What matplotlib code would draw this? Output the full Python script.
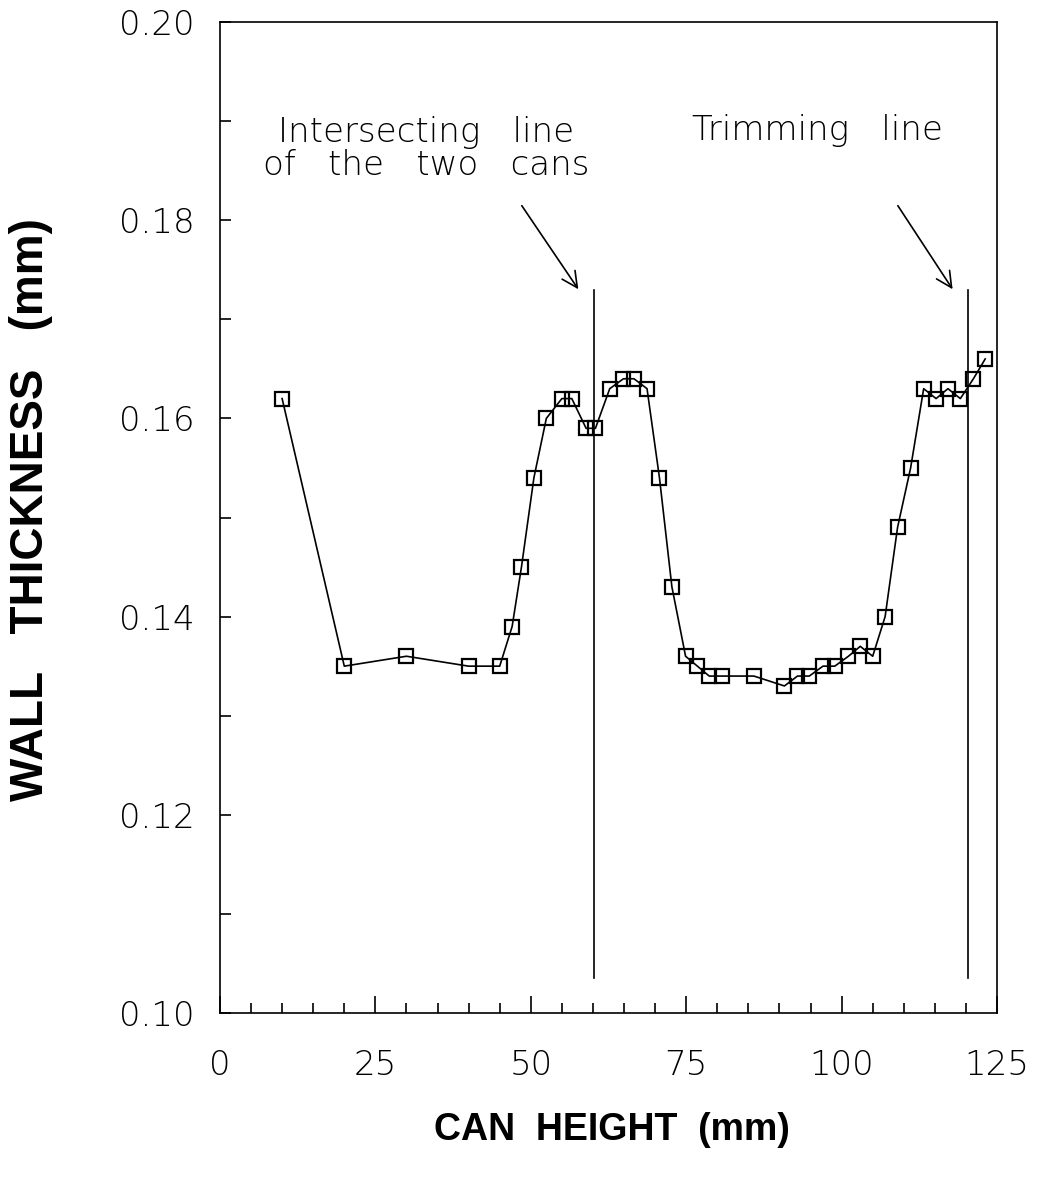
import matplotlib.pyplot as plt
from matplotlib.ticker import MultipleLocator

# wall thickness along the can height
can_height = [10, 20, 30, 40, 45, 47, 48.5, 50.5, 52.5, 55, 56.6, 58.9, 60.4,
              62.7, 64.9, 66.6, 68.7, 70.7, 72.7, 74.9, 76.8, 78.7, 80.8, 85.9,
              90.8, 92.9, 94.8, 97.0, 98.9, 101.1, 103.0, 105.0, 107.0, 109.0,
              111.1, 113.2, 115.2, 117.1, 119.1, 121.2, 123.1]
wall_thickness = [0.162, 0.135, 0.136, 0.135, 0.135, 0.139, 0.145, 0.154, 0.160,
                  0.162, 0.162, 0.159, 0.159, 0.163, 0.164, 0.164, 0.163, 0.154,
                  0.143, 0.136, 0.135, 0.134, 0.134, 0.134, 0.133, 0.134, 0.134,
                  0.135, 0.135, 0.136, 0.137, 0.136, 0.140, 0.149, 0.155, 0.163,
                  0.162, 0.163, 0.162, 0.164, 0.166]

x_ticks = [0, 25, 50, 75, 100, 125]
x_labels = ["0", "25", "50", "75", "100", "125"]
y_ticks = [0.10, 0.12, 0.14, 0.16, 0.18, 0.20]
y_labels = ["0.10", "0.12", "0.14", "0.16", "0.18", "0.20"]

marker_lines = [60.2, 120.3]
line_bottom = 0.1035
line_top = 0.1730

light = ["DejaVu Sans"]
bold = ["Liberation Sans", "DejaVu Sans"]

plt.rcParams["font.family"] = light

fig = plt.figure(figsize=(10.39, 11.83), dpi=100)
ax = fig.add_axes([0.2117, 0.1437, 0.7479, 0.8377])

ax.plot(can_height, wall_thickness, color="black", lw=1.2, marker="s",
        markersize=10, markerfacecolor="none", markeredgecolor="black",
        markeredgewidth=1.6)

for xv in marker_lines:
    ax.plot([xv, xv], [line_bottom, line_top], color="black", lw=1.2)

ax.annotate("", xy=(57.9, 0.1728), xytext=(48.3, 0.1817),
            arrowprops=dict(arrowstyle="->", color="black", lw=1.2,
                            mutation_scale=28))
ax.annotate("", xy=(118.1, 0.1728), xytext=(108.8, 0.1817),
            arrowprops=dict(arrowstyle="->", color="black", lw=1.2,
                            mutation_scale=28))

ax.text(33.1, 0.1879, "Intersecting   line", ha="center", va="baseline",
        fontsize=24.5, fontweight="light")
ax.text(33.1, 0.1846, "of   the   two   cans", ha="center", va="baseline",
        fontsize=24.5, fontweight="light")
ax.text(96.1, 0.1881, "Trimming   line", ha="center", va="baseline",
        fontsize=24.5, fontweight="light")

ax.set_xlim(0, 125)
ax.set_ylim(0.10, 0.20)
ax.set_xticks(x_ticks)
ax.set_xticklabels(x_labels, fontsize=24.5, fontweight="light")
ax.set_yticks(y_ticks)
ax.set_yticklabels(y_labels, fontsize=24.5, fontweight="light")
ax.xaxis.set_minor_locator(MultipleLocator(5))
ax.yaxis.set_minor_locator(MultipleLocator(0.01))
ax.tick_params(which="both", direction="in", top=False, right=False, width=1.2)
ax.tick_params(axis="x", which="major", length=12, pad=26)
ax.tick_params(axis="x", which="minor", length=7)
ax.tick_params(axis="y", which="both", length=8, pad=18)
for s in ax.spines.values():
    s.set_linewidth(1.2)

fig.text(0.589, 0.045, "CAN  HEIGHT  (mm)", ha="center", va="center",
         fontsize=27, family=bold, fontweight="bold")
fig.text(0.030, 0.569, "WALL   THICKNESS   (mm)", ha="center", va="center",
         rotation=90, fontsize=33, family=bold, fontweight="bold")

fig.savefig("out.png", dpi=100)
